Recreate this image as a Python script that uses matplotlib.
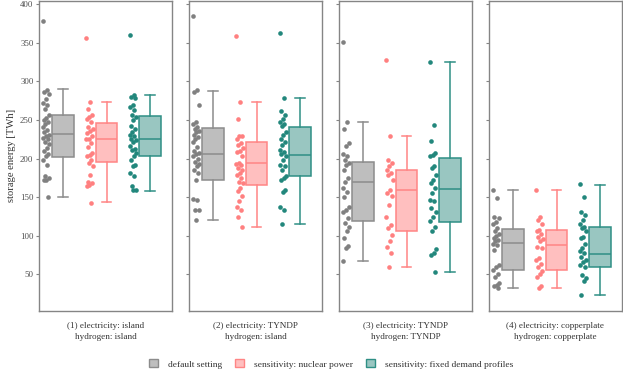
import numpy as np
import matplotlib.pyplot as plt
from matplotlib.patches import Patch

plt.rcParams['font.family'] = ['Liberation Serif', 'DejaVu Serif']

# scenario labels (one panel each)
scenarios = [
    "(1) electricity: island\nhydrogen: island",
    "(2) electricity: TYNDP\nhydrogen: island",
    "(3) electricity: TYNDP\nhydrogen: TYNDP",
    "(4) electricity: copperplate\nhydrogen: copperplate",
]
series = ["default setting", "sensitivity: nuclear power", "sensitivity: fixed demand profiles"]

# storage energy per weather year [TWh]
p1_default = [378, 289, 287, 284, 277, 272, 269, 265, 256, 253, 250, 248, 245, 241, 237, 234, 231,
              229, 227, 225, 222, 219, 214, 210, 206, 203, 198, 192, 178, 175, 173, 172, 150]
p1_nuclear = [356, 274, 265, 256, 254, 251, 248, 241, 239, 236, 233, 229, 226, 225, 220, 215, 208,
              205, 203, 198, 194, 191, 179, 170, 168, 166, 164, 143]
p1_fixed = [360, 282, 280, 278, 270, 267, 263, 257, 254, 250, 242, 239, 235, 231, 229, 226, 224,
            222, 216, 213, 211, 207, 203, 198, 192, 190, 181, 177, 164, 160, 159]

p2_default = [385, 289, 287, 270, 247, 245, 241, 239, 236, 234, 231, 228, 225, 222, 215, 210, 208,
              206, 203, 200, 196, 193, 190, 185, 182, 172, 148, 146, 134, 133, 120]
p2_nuclear = [359, 274, 252, 230, 229, 225, 220, 218, 214, 210, 209, 203, 195, 193, 192, 188, 185,
              182, 179, 175, 170, 169, 162, 158, 152, 145, 137, 133, 125, 111]
p2_fixed = [363, 278, 262, 257, 251, 248, 245, 242, 235, 231, 225, 222, 218, 211, 209, 206, 203,
            198, 192, 190, 185, 178, 175, 173, 160, 157, 138, 134, 116]

p3_default = [351, 247, 239, 220, 216, 206, 203, 198, 195, 192, 185, 175, 170, 162, 157, 150, 137,
              134, 131, 123, 117, 112, 106, 97, 87, 84, 67]
p3_nuclear = [328, 229, 198, 194, 191, 185, 181, 179, 172, 160, 155, 152, 140, 125, 114, 110, 101,
              94, 86, 78, 60]
p3_fixed = [325, 243, 223, 207, 205, 203, 190, 188, 179, 173, 168, 162, 155, 147, 145, 136, 131,
            125, 119, 112, 106, 83, 78, 75, 53]

p4_default = [159, 149, 125, 123, 118, 115, 110, 106, 103, 100, 97, 95, 93, 90, 88, 82, 62, 60,
              56, 50, 47, 39, 36, 35, 33]
p4_nuclear = [160, 124, 121, 115, 108, 106, 103, 99, 96, 93, 86, 84, 72, 69, 64, 60, 54, 50, 47,
              35, 33]
p4_fixed = [167, 150, 131, 127, 121, 116, 112, 110, 106, 99, 97, 90, 84, 80, 78, 73, 69, 66, 62,
            60, 49, 45, 41, 23]

points = [
    [p1_default, p1_nuclear, p1_fixed],
    [p2_default, p2_nuclear, p2_fixed],
    [p3_default, p3_nuclear, p3_fixed],
    [p4_default, p4_nuclear, p4_fixed],
]

# box statistics per panel (default, nuclear, fixed)
medians = [[232, 226, 226], [206, 194, 205], [170, 159, 161], [91, 88, 77]]
q1s = [[202, 196, 203], [173, 166, 177], [119, 106, 118], [56, 56, 60]]
q3s = [[257, 246, 255], [240, 221, 241], [196, 185, 201], [109, 108, 112]]
whislos = [[150, 144, 158], [120, 111, 116], [67, 60, 53], [33, 32, 23]]
whishis = [[290, 274, 282], [288, 274, 278], [247, 229, 325], [159, 160, 166]]

edge_colors = ["#8c8c8c", "#ff8585", "#2f8f85"]
fill_colors = ["#bebebe", "#ffbfbf", "#99c6c1"]
point_colors = ["#808080", "#ff8080", "#22877c"]
frame_color = "#858585"

fig = plt.figure(figsize=(6.23, 3.74), dpi=100)
W, H = 623, 374
lefts = [39, 189, 339, 489]
panel_w = 133
top_px, bottom_px = 0.5, 311

for i, left in enumerate(lefts):
    ax = fig.add_axes([left / W, 1 - bottom_px / H, panel_w / W, (bottom_px - top_px) / H])
    for j in range(3):
        pos = j + 1
        stats = [dict(med=medians[i][j], q1=q1s[i][j], q3=q3s[i][j],
                      whislo=whislos[i][j], whishi=whishis[i][j], fliers=[])]
        ax.bxp(stats, positions=[pos], widths=0.49, patch_artist=True, showfliers=False,
               boxprops=dict(facecolor=fill_colors[j], edgecolor=edge_colors[j], linewidth=1.1),
               medianprops=dict(color=edge_colors[j], linewidth=1.1),
               whiskerprops=dict(color=edge_colors[j], linewidth=1.1),
               capprops=dict(color=edge_colors[j], linewidth=1.1),
               capwidths=0.22)
        vals = np.array(points[i][j])
        k = np.arange(len(vals))
        jitter = ((k * 0.618034) % 1 - 0.5) * 0.16
        ax.scatter(pos - 0.39 + jitter, vals, s=11, color=point_colors[j], linewidths=0, zorder=3)

    ax.set_xlim(0.448, 3.506)
    ax.set_ylim(2.7, 404.9)
    ax.set_xticks([])
    ax.set_yticks([50, 100, 150, 200, 250, 300, 350, 400])
    ax.tick_params(axis='y', length=2.5, width=0.8, color=frame_color, labelsize=6.3,
                   labelcolor="#4d4d4d", pad=1.5)
    if i > 0:
        ax.tick_params(axis='y', labelleft=False)
    else:
        ax.set_ylabel("storage energy [TWh]", fontsize=7.6, color="#333333", labelpad=3)
    for sp in ax.spines.values():
        sp.set_color(frame_color)
        sp.set_linewidth(1.0)

    fig.text((left + panel_w / 2) / W, 1 - 322 / H, scenarios[i], ha='center', va='top',
             fontsize=6.6, color="#333333", linespacing=1.45)

handles = [Patch(facecolor=fill_colors[j], edgecolor=edge_colors[j], linewidth=1.0)
           for j in range(3)]
fig.legend(handles, series, loc='center', bbox_to_anchor=(0.532, 1 - 364 / H), ncol=3,
           frameon=False, fontsize=6.8, handlelength=0.9, handleheight=0.9,
           handletextpad=1.1, columnspacing=1.4, labelcolor="#333333")

fig.savefig("out.png", dpi=100)
